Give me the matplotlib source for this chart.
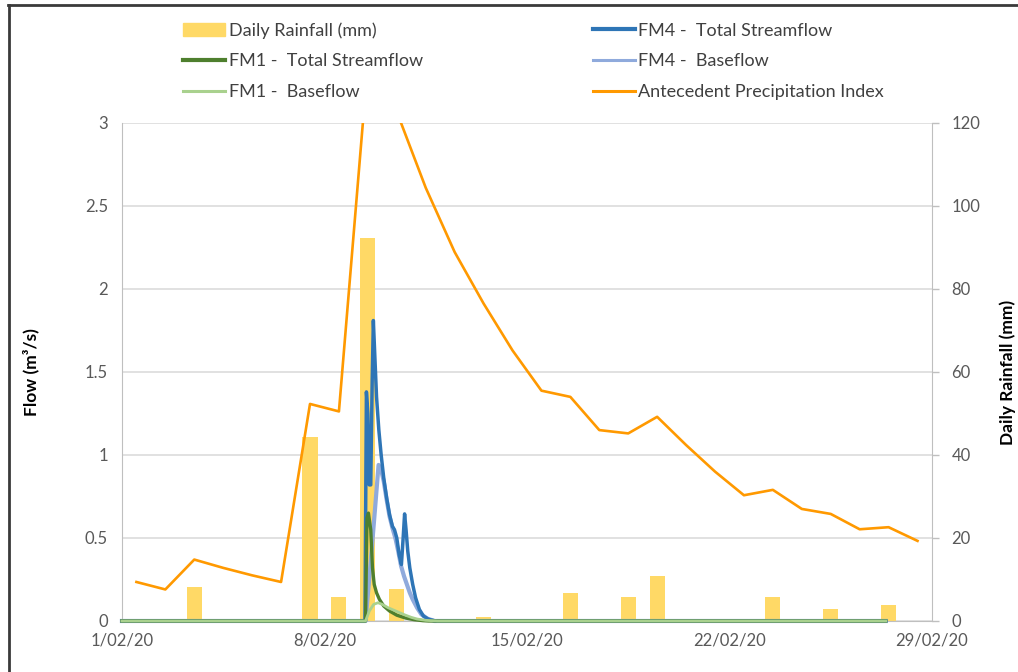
import numpy as np
import matplotlib.pyplot as plt
from matplotlib.lines import Line2D
from matplotlib.patches import Patch

plt.rcParams['font.family'] = ['Lato', 'DejaVu Sans']

# x axis: days since 1 Feb 2020
date_ticks = [0, 7, 14, 21, 28]
date_labels = ['1/02/20', '8/02/20', '15/02/20', '22/02/20', '29/02/20']

# daily values (1 Feb .. 28 Feb), plotted at mid-day
day_index = np.arange(28)
rain_mm = [0, 0, 8.1, 0, 0, 0, 44.3, 5.8, 92.4, 7.7, 0, 0, 1.0, 0,
           0, 6.7, 0, 5.8, 10.8, 0, 0, 0, 5.8, 0, 2.9, 0, 3.8, 0]
api_mm = [9.4, 7.6, 14.8, 12.8, 11.0, 9.4, 52.3, 50.5, 134.5, 122.7,
          104.4, 88.9, 76.5, 65.2, 55.5, 54.0, 46.0, 45.2, 49.2, 42.4,
          36.0, 30.3, 31.6, 27.0, 25.8, 22.1, 22.6, 19.3]

# sub-daily flow records (time in days, flow in m3/s)
fm4_total_t = [0.0, 8.40, 8.45, 8.50, 8.55, 8.60, 8.65, 8.69, 8.74, 8.80,
               8.88, 8.96, 9.05, 9.15, 9.25, 9.35, 9.42, 9.50, 9.58, 9.66,
               9.72, 9.77, 9.82, 9.88, 9.95, 10.05, 10.15, 10.28, 10.42,
               10.60, 10.85, 26.4]
fm4_total_q = [0.0, 0.0, 1.38, 1.25, 0.82, 0.82, 1.45, 1.81, 1.60, 1.35,
               1.15, 1.00, 0.86, 0.74, 0.64, 0.57, 0.55, 0.50, 0.40, 0.34,
               0.50, 0.645, 0.55, 0.42, 0.32, 0.22, 0.14, 0.07, 0.03,
               0.01, 0.0, 0.0]

fm4_base_t = [0.0, 8.42, 8.60, 8.75, 8.87, 8.95, 9.05, 9.15, 9.25, 9.35,
              9.45, 9.55, 9.65, 9.75, 9.85, 9.95, 10.05, 10.20, 10.35,
              10.55, 10.80, 26.4]
fm4_base_q = [0.0, 0.0, 0.36, 0.68, 0.94, 0.92, 0.84, 0.73, 0.63, 0.56,
              0.50, 0.42, 0.33, 0.27, 0.22, 0.17, 0.13, 0.08, 0.04,
              0.015, 0.0, 0.0]

fm1_total_t = [0.0, 8.42, 8.47, 8.52, 8.60, 8.66, 8.72, 8.80, 8.90, 9.05,
               9.25, 9.50, 9.80, 10.10, 10.40, 10.60, 26.4]
fm1_total_q = [0.0, 0.0, 0.62, 0.65, 0.55, 0.32, 0.22, 0.17, 0.13, 0.09,
               0.06, 0.035, 0.018, 0.008, 0.002, 0.0, 0.0]

fm1_base_t = [0.0, 8.42, 8.55, 8.70, 8.85, 9.00, 9.20, 9.40, 9.60, 9.80,
              10.00, 10.20, 10.50, 10.90, 26.4]
fm1_base_q = [0.0, 0.0, 0.06, 0.10, 0.11, 0.10, 0.08, 0.065, 0.05, 0.035,
              0.022, 0.012, 0.004, 0.0, 0.0]

grey = '#BFBFBF'
label_grey = '#595959'

fig = plt.figure(figsize=(10.18, 6.72), dpi=100)
ax = fig.add_axes([0.1198, 0.0759, 0.7957, 0.7411])
ax2 = ax.twinx()
ax.set_zorder(2)
ax2.set_zorder(1)
ax.patch.set_visible(False)
ax2.patch.set_visible(True)
ax2.patch.set_facecolor('white')

# rainfall + API on the secondary (right) axis
ax2.bar(day_index + 0.5, rain_mm, width=0.52, color='#FFD966', zorder=2)
ax2.plot(day_index + 0.5, api_mm, color='#FF9900', lw=1.9, zorder=3)
ax2.set_ylim(0, 120)
ax2.set_yticks(np.arange(0, 121, 20))
ax2.set_axisbelow(True)
ax2.grid(True, color='#D9D9D9', lw=1.1)

# flows on the primary (left) axis
ax.plot(fm4_base_t, fm4_base_q, color='#8FAADC', lw=3.0, clip_on=False, zorder=3)
ax.plot(fm4_total_t, fm4_total_q, color='#2E75B6', lw=2.5, clip_on=False, zorder=3)
ax.plot(fm1_total_t, fm1_total_q, color='#4E7F2E', lw=2.4, clip_on=False, zorder=3)
ax.plot(fm1_base_t, fm1_base_q, color='#A9D18E', lw=2.0, clip_on=False, zorder=3)
ax.set_ylim(0, 3)
ax.set_yticks(np.arange(0, 3.01, 0.5))
ax.set_yticklabels(['0', '0.5', '1', '1.5', '2', '2.5', '3'])
ax.set_xlim(0, 28)
ax.set_xticks(date_ticks)
ax.set_xticklabels(date_labels)

for a in (ax, ax2):
    for s in a.spines.values():
        s.set_visible(False)
ax.spines['left'].set_visible(True)
ax.spines['left'].set_color(grey)
ax.spines['bottom'].set_visible(True)
ax.spines['bottom'].set_color(grey)
ax.spines['bottom'].set_zorder(1)
ax2.spines['right'].set_visible(True)
ax2.spines['right'].set_color(grey)

ax.tick_params(axis='y', length=0, pad=10, labelsize=12, labelcolor=label_grey)
ax.tick_params(axis='x', length=0, pad=8, labelsize=12, labelcolor=label_grey)
ax2.tick_params(axis='y', length=5, width=1, color=grey, pad=9,
                labelsize=12, labelcolor=label_grey)

ax.set_ylabel('Flow (m³/s)', fontsize=12.5, fontweight='bold', color='black',
              ha='center', va='center')
ax.yaxis.set_label_coords(-0.113, 0.5)
ax2.set_ylabel('Daily Rainfall (mm)', fontsize=12.5, fontweight='bold',
               color='black', rotation=90, ha='center', va='center')
ax2.yaxis.set_label_coords(1.094, 0.5)

handles = [
    Patch(color='#FFD966', label='Daily Rainfall (mm)'),
    Line2D([], [], color='#4E7F2E', lw=3, label='FM1 -  Total Streamflow'),
    Line2D([], [], color='#A9D18E', lw=2.2, label='FM1 -  Baseflow'),
    Line2D([], [], color='#2E75B6', lw=3, label='FM4 -  Total Streamflow'),
    Line2D([], [], color='#8FAADC', lw=2.2, label='FM4 -  Baseflow'),
    Line2D([], [], color='#FF9900', lw=2.2, label='Antecedent Precipitation Index'),
]
leg = fig.legend(handles=handles, ncol=2, loc='upper left',
                 bbox_to_anchor=(183 / 1018, 1 - 22 / 672), frameon=False,
                 fontsize=13, handlelength=2.33, handletextpad=0.2,
                 columnspacing=9.4, labelspacing=0.82, borderpad=0,
                 borderaxespad=0)
for t in leg.get_texts():
    t.set_color('#404040')

# screenshot frame
fig.add_artist(Line2D([8 / 1018, 1], [1 - 5 / 672, 1 - 5 / 672],
                      color='#3A3A3A', lw=2, transform=fig.transFigure))
fig.add_artist(Line2D([9 / 1018, 9 / 1018], [0, 1 - 5 / 672],
                      color='#3A3A3A', lw=2, transform=fig.transFigure))

fig.savefig('out.png', dpi=100)
